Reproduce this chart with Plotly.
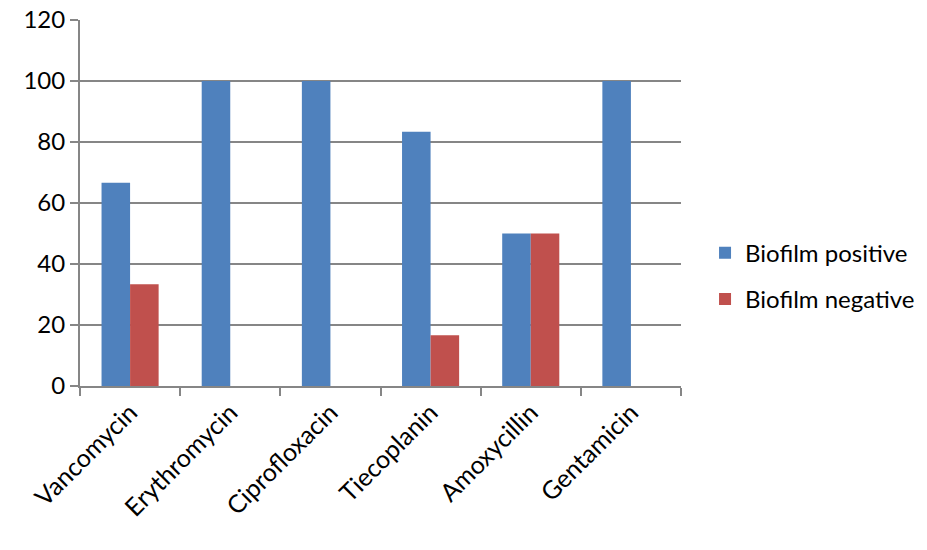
import plotly.graph_objects as go

categories = ["Vancomycin", "Erythromycin", "Ciprofloxacin", "Tiecoplanin", "Amoxycillin", "Gentamicin"]
biofilm_positive = [66.67, 100, 100, 83.33, 50, 100]
biofilm_negative = [33.33, 0, 0, 16.67, 50, 0]
y_ticks = [0, 20, 40, 60, 80, 100, 120]

fig = go.Figure()
fig.add_trace(go.Bar(x=categories, y=biofilm_positive, name="Biofilm positive",
                     marker=dict(color="#4F81BD", line=dict(width=0)), legendgroup="a"))
fig.add_trace(go.Bar(x=categories, y=biofilm_negative, name="Biofilm negative",
                     marker=dict(color="#C0504D", line=dict(width=0)), legendgroup="b"))

axis_color = "#868686"
fig.update_layout(
    width=927, height=550,
    margin=dict(l=80, r=246, t=20, b=164, autoexpand=False),
    plot_bgcolor="white", paper_bgcolor="white",
    barmode="group", bargap=0.43, bargroupgap=0,
    font=dict(family="Lato, Open Sans, sans-serif", size=24, color="black"),
    showlegend=True,
    legend=dict(x=1.04, y=0.30, xanchor="left", yanchor="middle",
                font=dict(size=24), tracegroupgap=12, itemwidth=30),
    xaxis=dict(showline=True, linecolor=axis_color, linewidth=2, automargin=False,
               ticks="outside", tickson="boundaries", ticklen=8, tickcolor=axis_color, tickwidth=2,
               tickangle=-45, tickfont=dict(size=25), showgrid=False, ticklabeloverflow="allow"),
    yaxis=dict(range=[0, 120], tickmode="array", tickvals=y_ticks,
               showline=True, linecolor=axis_color, linewidth=2, automargin=False,
               ticks="outside", ticklen=8, tickcolor=axis_color, tickwidth=2,
               showgrid=True, gridcolor=axis_color, gridwidth=1.5, ticklabeloverflow="allow",
               zeroline=False, tickfont=dict(size=24)),
)
fig.write_html("out.html", config={"displayModeBar": False},
               post_script="document.body.style.margin='0';")
